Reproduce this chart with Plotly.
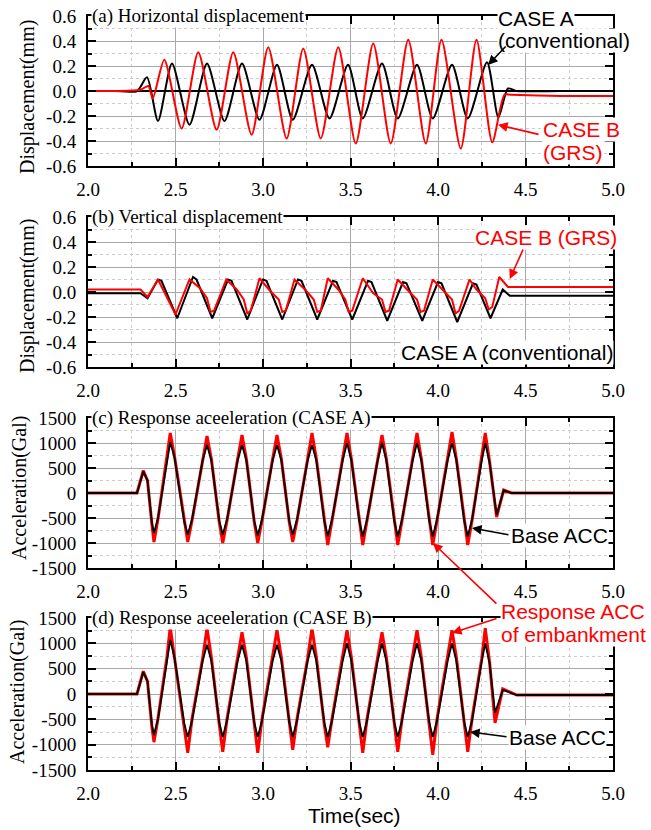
import plotly.graph_objects as go

# ---------------- data ----------------
# (a) horizontal displacement (mm)
HA_A = [(2.00,0.0),(2.15,0.0),(2.28,0.0),(2.337,0.11),(2.40,-0.24),(2.48,0.22),(2.58,-0.27),(2.68,0.22),
        (2.78,-0.24),(2.88,0.22),(2.98,-0.23),(3.08,0.21),(3.17,-0.23),(3.28,0.21),(3.38,-0.22),(3.486,0.21),
        (3.57,-0.22),(3.68,0.22),(3.77,-0.22),(3.88,0.21),(3.97,-0.22),(4.08,0.21),(4.17,-0.22),(4.28,0.23),
        (4.345,-0.21),(4.40,0.02),(4.45,0.0),(4.70,0.0),(5.00,0.0)]
HA_B = [(2.00,0.0),(2.15,0.0),(2.30,0.01),(2.345,0.04),(2.37,-0.06),(2.436,0.25),(2.535,-0.30),(2.63,0.31),
        (2.735,-0.31),(2.83,0.31),(2.935,-0.35),(3.03,0.35),(3.135,-0.38),(3.23,0.34),(3.33,-0.38),(3.43,0.35),
        (3.53,-0.42),(3.63,0.38),(3.73,-0.42),(3.83,0.41),(3.93,-0.42),(4.02,0.41),(4.13,-0.46),(4.22,0.41),
        (4.31,-0.41),(4.38,-0.03),(4.42,-0.03),(4.70,-0.04),(5.00,-0.04)]
# (b) vertical displacement (mm)
VD_A = [(2.00,-0.01),(2.30,-0.01),(2.34,-0.05),(2.40,0.10),(2.42,0.09),(2.51,-0.21),(2.60,0.12),(2.62,0.10),
        (2.71,-0.21),(2.80,0.10),(2.82,0.09),(2.91,-0.22),(3.00,0.10),(3.02,0.09),(3.11,-0.22),(3.20,0.10),
        (3.22,0.09),(3.31,-0.22),(3.40,0.09),(3.42,0.08),(3.51,-0.22),(3.60,0.09),(3.62,0.08),(3.71,-0.23),
        (3.80,0.08),(3.82,0.07),(3.91,-0.23),(4.00,0.08),(4.02,0.07),(4.11,-0.24),(4.20,0.07),(4.22,0.06),
        (4.30,-0.21),(4.37,0.02),(4.41,-0.03),(5.00,-0.03)]
VD_B = [(2.00,0.02),(2.30,0.02),(2.34,-0.04),(2.40,0.10),(2.50,-0.18),(2.58,0.10),(2.64,0.03),(2.68,-0.05),
        (2.70,-0.16),(2.72,-0.15),(2.79,0.10),(2.85,0.02),(2.89,-0.06),(2.91,-0.17),(2.93,-0.15),(2.98,0.11),
        (3.04,0.01),(3.09,-0.06),(3.11,-0.16),(3.13,-0.15),(3.18,0.10),(3.24,0.02),(3.29,-0.06),(3.31,-0.16),
        (3.33,-0.15),(3.37,0.11),(3.43,0.02),(3.47,-0.06),(3.49,-0.16),(3.51,-0.15),(3.57,0.11),(3.63,-0.01),
        (3.68,-0.06),(3.70,-0.16),(3.72,-0.15),(3.77,0.10),(3.83,0.01),(3.88,-0.06),(3.90,-0.16),(3.92,-0.15),
        (3.97,0.10),(4.03,0.01),(4.08,-0.06),(4.10,-0.17),(4.12,-0.15),(4.18,0.10),(4.22,0.02),(4.27,-0.05),
        (4.29,-0.14),(4.31,-0.12),(4.35,0.12),(4.40,0.04),(5.00,0.04)]
# (c) response acceleration CASE A (Gal)
AC_BASE = [(2.00,0),(2.28,0),(2.316,430),(2.34,250),(2.365,-600),(2.377,-800),(2.40,-500),(2.45,650),(2.47,1020),
           (2.495,700),(2.55,-580),(2.57,-830),(2.595,-520),(2.655,650),(2.68,960),(2.705,650),(2.75,-560),
           (2.77,-830),(2.795,-520),(2.855,650),(2.88,960),(2.905,650),(2.95,-560),(2.97,-850),(2.995,-520),
           (3.055,650),(3.08,960),(3.105,650),(3.15,-560),(3.17,-830),(3.195,-520),(3.255,650),(3.28,960),
           (3.305,650),(3.35,-560),(3.37,-860),(3.395,-520),(3.455,650),(3.48,1000),(3.505,650),(3.55,-560),
           (3.57,-870),(3.595,-520),(3.655,650),(3.68,1000),(3.705,650),(3.75,-560),(3.77,-870),(3.795,-520),
           (3.855,650),(3.88,1000),(3.905,650),(3.95,-560),(3.97,-870),(3.995,-520),(4.055,650),(4.08,1000),
           (4.105,650),(4.15,-560),(4.17,-870),(4.195,-520),(4.25,650),(4.27,1000),(4.295,600),(4.335,-440),
           (4.375,50),(4.42,0),(5.00,0)]
AC_RESP = [(2.00,0),(2.28,0),(2.316,450),(2.34,250),(2.365,-620),(2.377,-980),(2.40,-520),(2.45,680),(2.47,1200),
           (2.495,720),(2.55,-600),(2.57,-980),(2.595,-540),(2.655,680),(2.68,1140),(2.705,680),(2.75,-580),
           (2.77,-1000),(2.795,-540),(2.855,680),(2.88,1160),(2.905,680),(2.95,-580),(2.97,-1000),(2.995,-540),
           (3.055,680),(3.08,1160),(3.105,680),(3.15,-580),(3.17,-980),(3.195,-540),(3.255,680),(3.28,1200),
           (3.305,680),(3.35,-580),(3.37,-1040),(3.395,-540),(3.455,680),(3.48,1200),(3.505,680),(3.55,-580),
           (3.57,-1040),(3.595,-540),(3.655,680),(3.68,1160),(3.705,680),(3.75,-580),(3.77,-1040),(3.795,-540),
           (3.855,680),(3.88,1200),(3.905,680),(3.95,-580),(3.97,-1040),(3.995,-540),(4.055,680),(4.08,1220),
           (4.105,680),(4.15,-580),(4.17,-1040),(4.195,-540),(4.25,680),(4.27,1200),(4.295,620),(4.335,-480),
           (4.375,60),(4.42,0),(5.00,0)]
# (d) response acceleration CASE B (Gal)
BD_BASE = [(2.00,0),(2.28,0),(2.316,434),(2.34,250),(2.365,-600),(2.377,-810),(2.40,-500),(2.45,650),(2.47,1070),
           (2.495,700),(2.55,-580),(2.57,-850),(2.595,-520),(2.655,650),(2.68,970),(2.705,650),(2.75,-560),
           (2.77,-850),(2.795,-520),(2.855,650),(2.88,970),(2.905,650),(2.95,-560),(2.97,-850),(2.995,-520),
           (3.055,650),(3.08,970),(3.105,650),(3.15,-560),(3.17,-850),(3.195,-520),(3.255,650),(3.28,970),
           (3.305,650),(3.35,-560),(3.37,-850),(3.395,-520),(3.455,650),(3.48,1000),(3.505,650),(3.55,-560),
           (3.57,-850),(3.595,-520),(3.655,650),(3.68,1000),(3.705,650),(3.75,-560),(3.77,-850),(3.795,-520),
           (3.855,650),(3.88,1000),(3.905,650),(3.95,-560),(3.97,-850),(3.995,-520),(4.055,650),(4.08,1000),
           (4.105,650),(4.15,-560),(4.17,-850),(4.195,-520),(4.25,650),(4.27,1000),(4.295,600),(4.326,-370),
           (4.37,80),(4.45,-20),(5.00,-20)]
BD_RESP = [(2.00,0),(2.28,0),(2.316,450),(2.34,250),(2.365,-650),(2.377,-950),(2.40,-480),(2.45,700),(2.47,1320),
           (2.495,720),(2.55,-620),(2.57,-1160),(2.595,-480),(2.655,700),(2.68,1300),(2.705,720),(2.75,-600),
           (2.77,-1140),(2.795,-480),(2.855,700),(2.88,1220),(2.905,720),(2.95,-600),(2.97,-1160),(2.995,-480),
           (3.055,700),(3.08,1260),(3.105,720),(3.15,-600),(3.17,-1100),(3.195,-480),(3.255,700),(3.28,1300),
           (3.305,720),(3.35,-600),(3.37,-1050),(3.395,-480),(3.455,700),(3.48,1260),(3.505,720),(3.55,-600),
           (3.57,-1160),(3.595,-480),(3.655,700),(3.68,1220),(3.705,720),(3.75,-600),(3.77,-1140),(3.795,-480),
           (3.855,700),(3.88,1260),(3.905,720),(3.95,-600),(3.97,-1200),(3.995,-480),(4.055,700),(4.08,1260),
           (4.105,720),(4.15,-600),(4.17,-1140),(4.195,-480),(4.25,700),(4.27,1300),(4.295,620),(4.326,-570),
           (4.37,100),(4.45,-20),(5.00,-20)]

X_TICKS = [2.0, 2.5, 3.0, 3.5, 4.0, 4.5, 5.0]
X_TICKTEXT = ["2.0", "2.5", "3.0", "3.5", "4.0", "4.5", "5.0"]
D_TICKS = [-0.6, -0.4, -0.2, 0.0, 0.2, 0.4, 0.6]
D_TICKTEXT = ["-0.6", "-0.4", "-0.2", "0.0", "0.2", "0.4", "0.6"]
A_TICKS = [-1500, -1000, -500, 0, 500, 1000, 1500]
A_TICKTEXT = ["-1500", "-1000", "-500", "0", "500", "1000", "1500"]

PANEL_TITLES = ["(a) Horizontal displacement", "(b) Vertical displacement",
                "(c) Response aceeleration (CASE A)", "(d) Response aceeleration (CASE B)"]

# ---------------- figure ----------------
W, H = 651, 830
L, R = 88, 38
SERIF = "Liberation Serif, Times New Roman, serif"
SANS = "Liberation Sans, Arial, sans-serif"
RED = "#ff0000"

def py(px):  # page pixel y -> paper fraction
    return 1 - px / H

def pxx(px):  # page pixel x -> paper fraction
    return (px - L) / (W - L - R)

panels = [(16, 166), (217, 367), (418, 568), (618, 770)]

fig = go.Figure()

def add(series, ax, color, width, shape="linear"):
    t = [p[0] for p in series]
    v = [p[1] for p in series]
    sfx = "" if ax == 1 else str(ax)
    line = dict(color=color, width=width, shape=shape)
    if shape == "spline":
        line["smoothing"] = 0.7
    fig.add_trace(go.Scatter(x=t, y=v, mode="lines", xaxis="x" + sfx, yaxis="y" + sfx,
                             line=line, showlegend=False, hoverinfo="skip"))

add(HA_A, 1, "black", 2, "spline")
add(HA_B, 1, RED, 2, "spline")
add(VD_A, 2, "black", 2)
add(VD_B, 2, RED, 2)
add(AC_RESP, 3, RED, 3)
add(AC_BASE, 3, "black", 1.8)
add(BD_RESP, 4, RED, 3)
add(BD_BASE, 4, "black", 1.8)

layout = dict(width=W, height=H, margin=dict(l=L, r=R, t=0, b=0, pad=0, autoexpand=False),
              paper_bgcolor="white", plot_bgcolor="white", showlegend=False)

for i, (top, bot) in enumerate(panels, start=1):
    sfx = "" if i == 1 else str(i)
    xa = dict(domain=[0, 1], anchor="y" + sfx, range=[2, 5], automargin=False,
              tickmode="array", tickvals=X_TICKS, ticktext=X_TICKTEXT,
              ticks="inside", ticklen=8, tickwidth=1.5, tickcolor="black",
              showline=True, linewidth=2, linecolor="black", mirror="ticks",
              showgrid=True, gridcolor="#a8a8a8", gridwidth=1, zeroline=False,
              tickfont=dict(family=SERIF, size=19, color="black"), ticklabelstandoff=5,
              minor=dict(tickmode="linear", tick0=2.0, dtick=0.25, ticks="inside", ticklen=4,
                         tickwidth=1.5, tickcolor="black", showgrid=True,
                         gridcolor="#cccccc", griddash="dot", gridwidth=1))
    if i <= 2:
        yv, yt, rng, mt0, mdt = D_TICKS, D_TICKTEXT, [-0.6, 0.6], 0, 0.1
    else:
        yv, yt, rng, mt0, mdt = A_TICKS, A_TICKTEXT, [-1500, 1500], 0, 250
    ya = dict(domain=[py(bot), py(top)], anchor="x" + sfx, range=rng, automargin=False,
              tickmode="array", tickvals=yv, ticktext=yt,
              ticks="inside", ticklen=8, tickwidth=1.5, tickcolor="black",
              showline=True, linewidth=2, linecolor="black", mirror="ticks",
              showgrid=True, gridcolor="#a8a8a8", gridwidth=1,
              zeroline=(i == 1), zerolinecolor="black", zerolinewidth=1.5,
              tickfont=dict(family=SERIF, size=19, color="black"), ticklabelstandoff=6,
              minor=dict(tickmode="linear", tick0=mt0, dtick=mdt, ticks="inside", ticklen=4,
                         tickwidth=1.5, tickcolor="black", showgrid=True,
                         gridcolor="#cccccc", griddash="dot", gridwidth=1))
    layout["xaxis" + sfx] = xa
    layout["yaxis" + sfx] = ya

fig.update_layout(**layout)

ann = []
# panel titles on the top border
for i, (top, bot) in enumerate(panels, start=1):
    ann.append(dict(text=PANEL_TITLES[i - 1], xref="paper", yref="paper", x=pxx(91), y=py(top),
                    xanchor="left", yanchor="middle", showarrow=False, bgcolor="white", borderpad=0,
                    font=dict(family=SERIF, size=19, color="black")))

def label(text, x, y, color, anchor="left"):
    ann.append(dict(text=text, xref="paper", yref="paper", x=pxx(x), y=py(y),
                    xanchor=anchor, yanchor="middle", showarrow=False, bgcolor="white", borderpad=0,
                    font=dict(family=SANS, size=21, color=color)))

def arrow(panel, tx, ty, ax, ay, color):
    sfx = "" if panel == 1 else str(panel)
    ann.append(dict(text="", x=tx, y=ty, xref="x" + sfx, yref="y" + sfx, ax=ax, ay=ay,
                    showarrow=True, arrowhead=2, arrowsize=1.2, arrowwidth=1.6, arrowcolor=color,
                    standoff=0))

label("CASE A", 497, 18, "black")
label("(conventional)", 497, 41, "black")
label("CASE B", 542, 130, RED)
label("(GRS)", 542, 152, RED)
arrow(1, 4.286, 0.208, 19, -20, "black")
arrow(1, 4.343, -0.27, 42, 10, RED)

label("CASE B (GRS)", 474, 237, RED)
label("CASE A (conventional)", 400, 352, "black")
arrow(2, 4.41, 0.104, 14, -31, RED)

label("Base ACC", 510, 535, "black")
arrow(3, 4.194, -700, 38, 7, "black")
label("Response ACC", 500, 611, RED)
label("of embankment", 500, 634, RED)
arrow(3, 3.971, -1000, 65, 62, RED)
arrow(4, 4.08, 1204, 46, -15, RED)

label("Base ACC", 508, 737, "black")
arrow(4, 4.183, -750, 38, 5, "black")

# axis titles
ann.append(dict(text="Time(sec)", xref="paper", yref="paper", x=pxx(354), y=py(815),
                xanchor="center", yanchor="middle", showarrow=False,
                font=dict(family=SANS, size=21, color="black")))
for txt, xc, yc in [("Displacement(mm)", 28, 97), ("Displacement(mm)", 27, 296),
                    ("Acceleration(Gal)", 19, 488), ("Acceleration(Gal)", 17, 692)]:
    ann.append(dict(text=txt, xref="paper", yref="paper", x=pxx(xc), y=py(yc), textangle=-90,
                    xanchor="center", yanchor="middle", showarrow=False,
                    font=dict(family=SERIF, size=20, color="black")))

fig.update_layout(annotations=ann)
fig.write_html("out.html", config={"displayModeBar": False},
               post_script="document.body.style.margin='0';document.body.style.padding='0';")
